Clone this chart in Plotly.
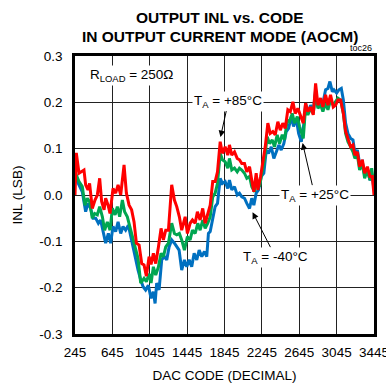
import plotly.graph_objects as go

# ---- data (DAC code, INL in LSB) ----
red_code = [245, 259, 288, 313, 341, 359, 384, 401, 430, 459, 484, 509, 530, 556, 573, 599, 620, 652, 680, 706,
            734, 770, 795, 824, 851, 877, 902, 931, 959, 984, 1009, 1038, 1059, 1084, 1109, 1138, 1166, 1191, 1216, 1245,
            1280, 1309, 1334, 1362, 1387, 1424, 1448, 1477, 1502, 1531, 1555, 1584, 1612, 1638, 1666, 1692, 1719, 1745, 1770, 1799,
            1823, 1852, 1880, 1898, 1923, 1952, 1981, 2005, 2030, 2059, 2084, 2113, 2137, 2159, 2184, 2202, 2231, 2255, 2281, 2309,
            2334, 2362, 2388, 2416, 2442, 2469, 2495, 2523, 2549, 2577, 2602, 2630, 2659, 2688, 2713, 2737, 2766, 2795, 2820, 2845,
            2874, 2898, 2927, 2952, 2980, 3009, 3034, 3059, 3088, 3117, 3141, 3166, 3195, 3220, 3241, 3267, 3291, 3320, 3345, 3374,
            3402, 3427, 3445]
red_inl = [0.0, 0.091, 0.047, 0.05, 0.054, 0.022, 0.011, 0.025, -0.029, -0.011, 0.0, 0.036, -0.014, -0.032, -0.007, -0.022, -0.04, 0.014, 0.004, 0.022,
           0.0, 0.065, 0.004, -0.022, -0.032, -0.058, -0.104, -0.108, -0.148, -0.151, -0.175, -0.133, -0.15, -0.126, -0.148, -0.112, -0.072, -0.097, -0.076, -0.076,
           0.022, -0.011, -0.025, -0.047, -0.076, -0.047, -0.083, -0.061, -0.054, -0.061, -0.036, -0.054, -0.029, -0.061, -0.04, -0.022, 0.029, 0.029, 0.05, 0.115,
           0.09, 0.104, 0.086, 0.108, 0.086, 0.093, 0.079, 0.076, 0.068, 0.068, 0.05, 0.061, 0.032, 0.007, 0.047, 0.011, 0.04, 0.068, 0.104, 0.155,
           0.133, 0.137, 0.13, 0.158, 0.14, 0.155, 0.144, 0.184, 0.18, 0.201, 0.176, 0.187, 0.17, 0.155, 0.198, 0.18, 0.19, 0.173, 0.241, 0.194,
           0.209, 0.19, 0.216, 0.194, 0.216, 0.19, 0.194, 0.205, 0.205, 0.176, 0.137, 0.122, 0.104, 0.108, 0.086, 0.093, 0.061, 0.076, 0.047, 0.061,
           0.04, 0.04, 0.0]

green_code = [245, 288, 323, 352, 377, 401, 430, 455, 484, 509, 538, 562, 591, 620, 645, 674, 698, 723, 752, 776,
              805, 830, 859, 894, 920, 948, 984, 1009, 1038, 1059, 1084, 1109, 1138, 1166, 1191, 1216, 1245, 1280, 1309, 1334,
              1362, 1387, 1416, 1448, 1477, 1502, 1531, 1559, 1584, 1612, 1638, 1666, 1692, 1719, 1745, 1770, 1799, 1823, 1852, 1880,
              1898, 1923, 1952, 1981, 2005, 2030, 2059, 2084, 2113, 2137, 2166, 2191, 2220, 2245, 2273, 2302, 2327, 2356, 2380, 2409,
              2434, 2463, 2488, 2516, 2541, 2570, 2595, 2624, 2648, 2688, 2713, 2737, 2766, 2795, 2820, 2845, 2874, 2898, 2927, 2952,
              2980, 3009, 3034, 3059, 3088, 3117, 3141, 3166, 3195, 3220, 3241, 3267, 3291, 3320, 3345, 3374, 3402, 3420, 3445]
green_inl = [0.05, 0.029, 0.018, -0.022, -0.007, -0.014, -0.05, -0.04, -0.043, -0.025, -0.047, -0.076, -0.058, -0.076, -0.029, -0.043, -0.025, -0.047, -0.011, -0.036,
             -0.047, -0.068, -0.09, -0.115, -0.137, -0.19, -0.18, -0.187, -0.17, -0.19, -0.155, -0.173, -0.155, -0.126, -0.133, -0.112, -0.104, -0.061, -0.083, -0.086,
             -0.083, -0.097, -0.119, -0.09, -0.097, -0.076, -0.083, -0.061, -0.076, -0.054, -0.072, -0.061, -0.047, -0.004, 0.004, 0.025, 0.09, 0.076, 0.072, 0.058,
             0.079, 0.054, 0.058, 0.05, 0.058, 0.054, 0.047, 0.036, 0.04, 0.018, 0.007, 0.032, 0.018, 0.047, 0.076, 0.126, 0.111, 0.119, 0.104, 0.13,
             0.111, 0.13, 0.119, 0.162, 0.158, 0.176, 0.155, 0.169, 0.148, 0.122, 0.19, 0.173, 0.187, 0.176, 0.22, 0.187, 0.194, 0.18, 0.198, 0.184,
             0.205, 0.194, 0.201, 0.209, 0.205, 0.176, 0.133, 0.115, 0.104, 0.093, 0.079, 0.086, 0.054, 0.068, 0.036, 0.054, 0.032, 0.058, 0.018]

blue_code = [245, 288, 323, 359, 384, 412, 438, 466, 495, 519, 545, 573, 602, 626, 652, 680, 706, 734, 759, 787,
             816, 841, 866, 894, 920, 948, 974, 1001, 1030, 1059, 1084, 1102, 1119, 1145, 1173, 1202, 1227, 1252, 1280, 1309,
             1334, 1359, 1387, 1416, 1441, 1467, 1494, 1520, 1548, 1574, 1602, 1630, 1655, 1673, 1692, 1719, 1745, 1770, 1799, 1823,
             1852, 1880, 1898, 1923, 1952, 1981, 2005, 2030, 2059, 2084, 2113, 2137, 2159, 2184, 2209, 2238, 2266, 2292, 2316, 2345,
             2373, 2399, 2427, 2452, 2480, 2506, 2531, 2560, 2584, 2613, 2638, 2667, 2695, 2713, 2737, 2766, 2795, 2820, 2845, 2874,
             2898, 2927, 2952, 2973, 2999, 3016, 3045, 3069, 3095, 3117, 3141, 3166, 3195, 3220, 3241, 3267, 3291, 3320, 3345, 3374,
             3402, 3427, 3445]
blue_inl = [0.04, 0.022, 0.007, -0.036, -0.018, -0.029, -0.05, -0.05, -0.061, -0.054, -0.076, -0.104, -0.083, -0.104, -0.068, -0.079, -0.058, -0.083, -0.068, -0.076,
            -0.065, -0.09, -0.112, -0.144, -0.162, -0.183, -0.198, -0.205, -0.195, -0.223, -0.209, -0.234, -0.19, -0.205, -0.14, -0.133, -0.14, -0.112, -0.097, -0.104,
            -0.112, -0.119, -0.162, -0.14, -0.155, -0.14, -0.155, -0.126, -0.14, -0.119, -0.133, -0.122, -0.133, -0.083, -0.079, -0.047, -0.025, -0.018, 0.036, 0.025,
            0.029, 0.014, 0.032, 0.011, 0.018, 0.0, 0.004, -0.004, -0.007, -0.018, -0.029, -0.007, -0.022, 0.004, 0.011, 0.04, 0.047, 0.097, 0.09, 0.104,
            0.079, 0.093, 0.108, 0.097, 0.111, 0.137, 0.144, 0.169, 0.148, 0.165, 0.133, 0.115, 0.155, 0.198, 0.176, 0.194, 0.18, 0.227, 0.19, 0.201,
            0.198, 0.227, 0.23, 0.245, 0.223, 0.227, 0.22, 0.227, 0.23, 0.205, 0.155, 0.133, 0.122, 0.119, 0.09, 0.097, 0.068, 0.072, 0.043, 0.054,
            0.032, 0.04, 0.011]

x_ticks = [245, 645, 1045, 1445, 1845, 2245, 2645, 3045, 3445]
x_tick_labels = ["245", "645", "1045", "1445", "1845", "2245", "2645", "3045", "3445"]
y_ticks = [-0.3, -0.2, -0.1, 0.0, 0.1, 0.2, 0.3]
y_tick_labels = ["-0.3", "-0.2", "-0.1", "0.0", "0.1", "0.2", "0.3"]

FONT = "Liberation Sans, Arial, sans-serif"

fig = go.Figure()
fig.add_trace(go.Scatter(x=blue_code, y=blue_inl, mode="lines", line=dict(color="#0070c0", width=3), name="-40°C"))
fig.add_trace(go.Scatter(x=green_code, y=green_inl, mode="lines", line=dict(color="#00a651", width=3), name="+25°C"))
fig.add_trace(go.Scatter(x=red_code, y=red_inl, mode="lines", line=dict(color="#ff0000", width=3), name="+85°C"))

axis_common = dict(showgrid=True, gridcolor="#222222", gridwidth=1, showline=True, linecolor="black",
                   linewidth=2.5, mirror=True, ticks="", zeroline=False, automargin=False,
                   ticklabeloverflow="allow",
                   tickfont=dict(family=FONT, size=13.5, color="black"))

fig.update_xaxes(range=[245, 3445], tickvals=x_ticks, ticktext=x_tick_labels, ticklabelstandoff=4,
                 title=dict(text="DAC CODE (DECIMAL)", font=dict(family=FONT, size=13.5, color="black"), standoff=12),
                 **axis_common)
fig.update_yaxes(range=[-0.3, 0.3], tickvals=y_ticks, ticktext=y_tick_labels, ticklabelstandoff=7,
                 title=dict(text="INL (LSB)", font=dict(family=FONT, size=13.5, color="black"), standoff=14),
                 **axis_common)

ann_font = dict(family=FONT, size=13.5, color="black")
title_font = dict(family=FONT, size=15.5, color="black")
fig.update_layout(
    width=386, height=386,
    margin=dict(l=75, r=12, t=56, b=52),
    paper_bgcolor="white", plot_bgcolor="white",
    showlegend=False,
    annotations=[
        dict(text="<b>OUTPUT INL vs. CODE</b>", xref="paper", yref="paper", x=0.486, y=1.137,
             xanchor="center", yanchor="middle", showarrow=False, font=title_font),
        dict(text="<b>IN OUTPUT CURRENT MODE (AOCM)</b>", xref="paper", yref="paper", x=0.486, y=1.07,
             xanchor="center", yanchor="middle", showarrow=False, font=title_font),
        dict(text="R<sub>LOAD</sub> = 250Ω", xref="paper", yref="paper", x=0.045, y=0.93,
             xanchor="left", yanchor="middle", showarrow=False, font=ann_font, bgcolor="white"),
        dict(text="T<sub>A</sub> = +85°C", x=1802, y=0.125, ax=8, ay=-36, showarrow=True,
             arrowhead=2, arrowsize=1.3, arrowwidth=1, arrowcolor="black", font=ann_font, bgcolor="white"),
        dict(text="T<sub>A</sub> = +25°C", x=2681, y=0.112, ax=12, ay=52, showarrow=True,
             arrowhead=2, arrowsize=1.3, arrowwidth=1, arrowcolor="black", font=ann_font, bgcolor="white"),
        dict(text="T<sub>A</sub> = -40°C", x=2145, y=-0.037, ax=23, ay=45, showarrow=True,
             arrowhead=2, arrowsize=1.3, arrowwidth=1, arrowcolor="black", font=ann_font, bgcolor="white"),
        dict(text="toc26", xref="paper", yref="paper", x=1.0, y=1.0, xanchor="right", yanchor="bottom",
             showarrow=False, font=dict(family=FONT, size=9, color="black"), yshift=1),
    ],
)

fig.write_html("out.html")
